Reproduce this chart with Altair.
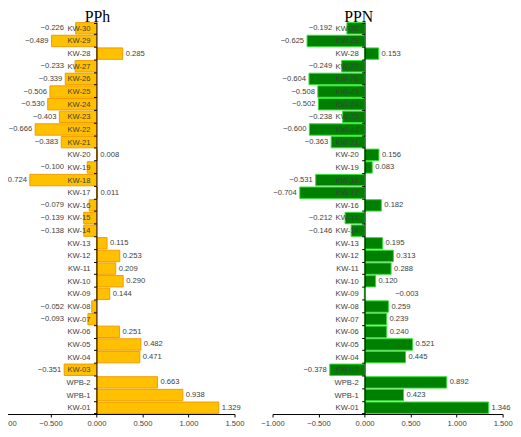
import altair as alt
import pandas as pd

cats = ["KW-30", "KW-29", "KW-28", "KW-27", "KW-26", "KW-25", "KW-24", "KW-23",
        "KW-22", "KW-21", "KW-20", "KW-19", "KW-18", "KW-17", "KW-16", "KW-15",
        "KW-14", "KW-13", "KW-12", "KW-11", "KW-10", "KW-09", "KW-08", "KW-07",
        "KW-06", "KW-05", "KW-04", "KW-03", "WPB-2", "WPB-1", "KW-01"]

pph = [-0.226, -0.489, 0.285, -0.233, -0.339, -0.506, -0.530, -0.403,
       -0.666, -0.383, 0.008, -0.100, -0.724, 0.011, -0.079, -0.139,
       -0.138, 0.115, 0.253, 0.209, 0.290, 0.144, -0.052, -0.093,
       0.251, 0.482, 0.471, -0.351, 0.663, 0.938, 1.329]

ppn = [-0.192, -0.625, 0.153, -0.249, -0.604, -0.508, -0.502, -0.238,
       -0.600, -0.363, 0.156, 0.083, -0.531, -0.704, 0.182, -0.212,
       -0.146, 0.195, 0.313, 0.288, 0.120, -0.003, 0.259, 0.239,
       0.240, 0.521, 0.445, -0.378, 0.892, 0.423, 1.346]

x_ticks = [-1.0, -0.5, 0.0, 0.5, 1.0, 1.5]

W, H = 233, 397
TXT = "#404040"
FONT = "Liberation Sans"
FS = 7.7


def frame(vals):
    rows = []
    for c, v in zip(cats, vals):
        if v >= 0:
            side, lx = "R", v
        elif v > -0.01:
            side, lx = "R", 0.30
        else:
            side, lx = "L", min(v, -0.32)
        rows.append({"cat": c, "v": v, "side": side, "lx": lx})
    return pd.DataFrame(rows)


def panel(vals, title, fill, stroke, tdx):
    df = frame(vals)
    xs = alt.Scale(domain=[-1.0, 1.5], nice=False, zero=False)
    ys = alt.Scale(domain=cats, paddingInner=0.1, paddingOuter=0.05)
    base = alt.Chart(df)
    bars = base.mark_bar(fill=fill, stroke=stroke, strokeWidth=1).encode(
        x=alt.X("v:Q", scale=xs,
                axis=alt.Axis(values=x_ticks, format=".3f", title=None, ticks=True,
                              tickSize=3, tickColor="#000000", labelFlush=False,
                              grid=False, domainColor="#000000", labelFontSize=FS,
                              labelColor=TXT, labelFont=FONT, labelPadding=3)),
        y=alt.Y("cat:N", scale=ys, sort=cats,
                axis=alt.Axis(title=None, offset=-0.4 * W, tickBand="extent",
                              tickSize=3, labelPadding=3.5, domainColor="#000000",
                              tickColor="#000000", zindex=1, labelFontSize=FS,
                              labelColor=TXT, labelFont=FONT)),
    )
    lab_r = base.transform_filter(alt.datum.side == "R").mark_text(
        align="left", baseline="middle", dx=3, fontSize=FS, color=TXT, font=FONT
    ).encode(x="lx:Q", y=alt.Y("cat:N", sort=cats), text=alt.Text("v:Q", format=".3f"))
    lab_l = base.transform_filter(alt.datum.side == "L").mark_text(
        align="right", baseline="middle", dx=-3, fontSize=FS, color=TXT, font=FONT
    ).encode(x="lx:Q", y=alt.Y("cat:N", sort=cats), text=alt.Text("v:Q", format=".3f"))
    ttl = alt.Chart(pd.DataFrame({"t": [title]})).mark_text(
        font="Liberation Serif", fontSize=16, baseline="alphabetic", color="#000000",
        dx=tdx, dy=-0.5
    ).encode(x=alt.datum(0), y=alt.value(0), text="t:N")
    return alt.layer(bars, lab_r, lab_l, ttl).properties(width=W, height=H)


left = panel(pph, "PPh", "#FFC000", "#F39A00", 1)
right = panel(ppn, "PPN", "#008000", "#33DD33", -6)

chart = alt.hconcat(left, right, spacing=16.5).properties(
    padding={"left": -15.6, "top": -2.5, "right": 0, "bottom": 0},
    background="#FFFFFF",
).configure_view(stroke=None)

chart.save("out.html", embed_options={"renderer": "svg", "actions": False})
